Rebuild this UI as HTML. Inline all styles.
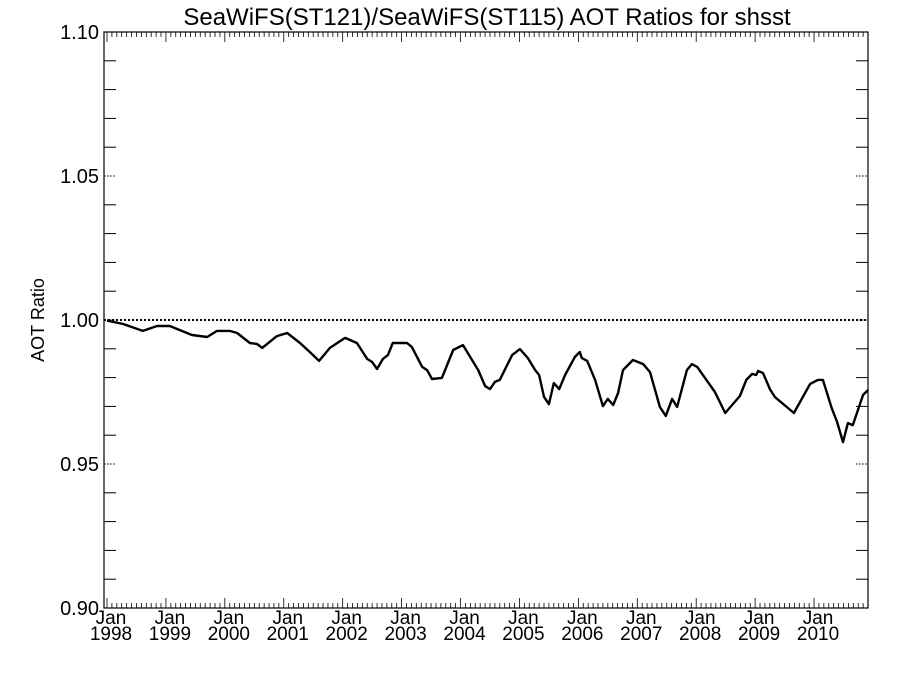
<!DOCTYPE html>
<html><head><meta charset="utf-8"><style>
body{margin:0;background:#fff;}
svg text{font-family:"Liberation Sans",sans-serif;fill:#000;}
</style></head><body>
<svg id="chart" width="900" height="675" xmlns="http://www.w3.org/2000/svg">
<rect width="900" height="675" fill="#fff"/>
<text x="487" y="25" font-size="24" text-anchor="middle">SeaWiFS(ST121)/SeaWiFS(ST115)  AOT Ratios for shsst</text>
<text transform="translate(44,320) rotate(-90)" font-size="18" text-anchor="middle">AOT Ratio</text>
<g id="axes"></g>
<g id="series"></g>
</svg>
<script>
const months=[0,3.3,7.3,10.2,12.8,17.3,20.4,22.4,25,26.5,29.1,30.5,31.6,34.6,36.7,39.3,41.3,43.2,45.4,48.5,50.9,53,54,55,56.2,57.2,58.2,61.1,62.1,64.2,65.2,66.2,68.2,70.5,72.5,75.6,77,78,79,80,82.5,84.1,85.7,87.2,88,89,90,91,92.1,93.3,95.3,96.3,96.7,97.8,99.4,101,102,103.1,104.1,105.1,107.1,109.2,110.6,112.6,113.8,115.1,116.1,118.1,119.1,120.2,123.8,125.9,128.9,130.2,131.4,132.2,132.6,133.6,135,136,139.9,143.2,144.8,145.8,147.6,148.7,149.9,150.9,151.9,154,155];
const ratios=[0.9998,0.9986,0.9962,0.9979,0.9979,0.9948,0.9941,0.9962,0.9962,0.9955,0.9920,0.9917,0.9903,0.9944,0.9955,0.9920,0.9889,0.9858,0.9903,0.9938,0.9920,0.9865,0.9854,0.9830,0.9865,0.9878,0.9920,0.9920,0.9906,0.9837,0.9826,0.9795,0.9799,0.9896,0.9913,0.9826,0.9771,0.9760,0.9785,0.9792,0.9878,0.9899,0.9868,0.9826,0.9809,0.9733,0.9708,0.9781,0.9760,0.9809,0.9872,0.9889,0.9868,0.9858,0.9792,0.9701,0.9726,0.9705,0.9747,0.9826,0.9861,0.9847,0.9819,0.9698,0.9667,0.9726,0.9698,0.9826,0.9847,0.9837,0.9750,0.9677,0.9736,0.9792,0.9813,0.9809,0.9823,0.9816,0.9760,0.9733,0.9677,0.9778,0.9792,0.9792,0.9694,0.9646,0.9576,0.9642,0.9635,0.9740,0.9757];
const yTickLabels=["0.90","0.95","1.00","1.05","1.10"];
const yearLabels=["1998","1999","2000","2001","2002","2003","2004","2005","2006","2007","2008","2009","2010"];
const refValue=1.0;

const L=104,R=868,T=32,B=608;
const yMin=0.90,yMax=1.10;
function xs(m){return 107+m*4.91;}
function ys(v){return B-(v-yMin)/(yMax-yMin)*(B-T);}
const NS="http://www.w3.org/2000/svg";
const axes=document.getElementById('axes'),series=document.getElementById('series');
function mk(tag,attrs,parent){const e=document.createElementNS(NS,tag);for(const k in attrs)e.setAttribute(k,attrs[k]);parent.appendChild(e);return e;}

const frame=mk('rect',{x:L,y:T,width:R-L,height:B-T,fill:'none',stroke:'#000','stroke-width':1.2},axes);



for(let i=0;i<=20;i++){
  const v=yMin+i*0.01,y=ys(v);
  if(i%5===0) continue;
  const a=mk('line',{x1:L,x2:L+12,y1:y,y2:y,stroke:'#000','stroke-width':1},axes);
  
  
  const b=mk('line',{x1:R-12,x2:R,y1:y,y2:y,stroke:'#000','stroke-width':1},axes);
  
  
}
yTickLabels.forEach(s=>{
  const v=parseFloat(s),y=ys(v);
  const a=mk('line',{x1:L,x2:L+12,y1:y,y2:y,stroke:'#000','stroke-width':1,'stroke-dasharray':'1.5,1.5'},axes);
  
  
  const b=mk('line',{x1:R-12,x2:R,y1:y,y2:y,stroke:'#000','stroke-width':1,'stroke-dasharray':'1.5,1.5'},axes);
  
  
  const t=mk('text',{x:99,y:y+7,'font-size':20,'text-anchor':'end'},axes);
  t.textContent=s;
  
  
});
for(let m=0;m<=155;m++){
  const x=xs(m),len=(m%12===0)?10:5;
  const a=mk('line',{x1:x,x2:x,y1:B,y2:B-len,stroke:'#000','stroke-width':0.8},axes);
  
  
  const b=mk('line',{x1:x,x2:x,y1:T,y2:T+len,stroke:'#000','stroke-width':0.8},axes);
  
  
}
yearLabels.forEach((yr,i)=>{
  const x=xs(i*12)+4;
  const t1=mk('text',{x:x,y:624,'font-size':19,'text-anchor':'middle'},axes);
  t1.textContent='Jan';
  
  
  const t2=mk('text',{x:x,y:640,'font-size':19,'text-anchor':'middle'},axes);
  t2.textContent=yr;
  
  
});
const ref=mk('line',{x1:L,x2:R,y1:ys(refValue),y2:ys(refValue),stroke:'#000','stroke-width':2,'stroke-dasharray':'2,2'},series);


const pts=months.map((m,i)=>xs(m).toFixed(1)+','+ys(ratios[i]).toFixed(1)).join(' ');
const pl=mk('polyline',{points:pts,fill:'none',stroke:'#000','stroke-width':2.4,'stroke-linejoin':'round'},series);


</script>
</body></html>
